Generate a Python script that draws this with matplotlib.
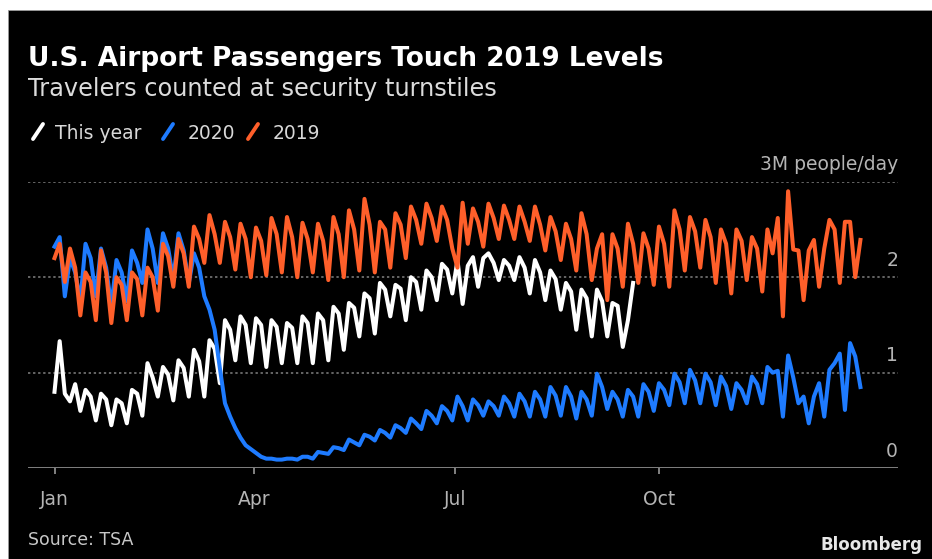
import numpy as np
import matplotlib
matplotlib.use("Agg")
import matplotlib.pyplot as plt
import matplotlib.transforms as mtransforms
from matplotlib.lines import Line2D
from matplotlib.patches import Rectangle

# ---------------------------------------------------------------------------
# Data: TSA checkpoint travel numbers (millions of people per day),
# three readings per week (every 7/3 days) starting on Jan 1.
# ---------------------------------------------------------------------------
STEP_DAYS = 7 / 3

pax_2019 = [
    2.20, 2.35, 1.95, 2.30, 2.10, 1.60, 2.05, 1.95, 1.55, 2.28, 2.05, 1.52,
    2.00, 1.92, 1.55, 2.05, 1.98, 1.60, 2.10, 2.00, 1.65, 2.35, 2.22, 1.90,
    2.40, 2.25, 1.90, 2.53, 2.40, 2.15, 2.65, 2.45, 2.15, 2.58, 2.42, 2.08,
    2.56, 2.40, 2.00, 2.52, 2.38, 2.02, 2.62, 2.45, 2.05, 2.63, 2.42, 2.00,
    2.57, 2.40, 2.05, 2.56, 2.38, 1.97, 2.63, 2.45, 2.00, 2.70, 2.50, 2.07,
    2.82, 2.55, 2.05, 2.58, 2.50, 2.10, 2.67, 2.55, 2.20, 2.74, 2.60, 2.35,
    2.77, 2.62, 2.38, 2.74, 2.60, 2.30, 2.10, 2.78, 2.35, 2.72, 2.58, 2.32,
    2.77, 2.62, 2.40, 2.75, 2.60, 2.40, 2.74, 2.58, 2.38, 2.74, 2.55, 2.28,
    2.63, 2.48, 2.18, 2.56, 2.40, 2.07, 2.67, 2.45, 1.97, 2.30, 2.45, 1.76,
    2.45, 2.30, 1.90, 2.56, 2.35, 1.94, 2.46, 2.30, 1.92, 2.53, 2.35, 1.90,
    2.70, 2.50, 2.07, 2.63, 2.48, 2.10, 2.60, 2.42, 1.94, 2.50, 2.35, 1.83,
    2.50, 2.38, 1.97, 2.42, 2.30, 1.85, 2.50, 2.25, 2.62, 1.59, 2.90, 2.29,
    2.28, 1.76, 2.28, 2.39, 1.90, 2.30, 2.60, 2.50, 1.94, 2.58, 2.58, 2.00,
    2.39,
]

pax_2020 = [
    2.32, 2.42, 1.80, 2.20, 2.05, 1.75, 2.35, 2.20, 1.80, 2.30, 2.10, 1.69,
    2.18, 2.05, 1.75, 2.28, 2.15, 1.94, 2.50, 2.30, 1.94, 2.46, 2.30, 1.98,
    2.46, 2.28, 1.94, 2.25, 2.10, 1.80, 1.66, 1.45, 1.05, 0.68, 0.54, 0.42,
    0.32, 0.24, 0.20, 0.16, 0.12, 0.10, 0.10, 0.09, 0.09, 0.10, 0.10, 0.09,
    0.12, 0.12, 0.10, 0.17, 0.16, 0.15, 0.22, 0.21, 0.19, 0.30, 0.27, 0.24,
    0.35, 0.33, 0.29, 0.40, 0.37, 0.32, 0.45, 0.42, 0.37, 0.52, 0.47, 0.41,
    0.60, 0.55, 0.47, 0.65, 0.60, 0.50, 0.75, 0.65, 0.50, 0.72, 0.66, 0.55,
    0.70, 0.65, 0.55, 0.75, 0.68, 0.54, 0.78, 0.70, 0.54, 0.80, 0.72, 0.54,
    0.85, 0.76, 0.55, 0.85, 0.75, 0.52, 0.80, 0.72, 0.55, 0.99, 0.85, 0.62,
    0.80, 0.72, 0.54, 0.82, 0.75, 0.54, 0.88, 0.80, 0.60, 0.89, 0.82, 0.66,
    0.99, 0.90, 0.68, 1.03, 0.92, 0.68, 0.99, 0.90, 0.66, 0.96, 0.86, 0.62,
    0.89, 0.82, 0.68, 0.96, 0.88, 0.68, 1.06, 1.00, 1.02, 0.54, 1.18, 0.95,
    0.68, 0.75, 0.47, 0.75, 0.89, 0.54, 1.03, 1.10, 1.20, 0.61, 1.31, 1.17,
    0.85,
]

pax_this_year = [
    0.80, 1.33, 0.78, 0.70, 0.88, 0.60, 0.82, 0.75, 0.50, 0.78, 0.72, 0.45,
    0.72, 0.68, 0.47, 0.82, 0.78, 0.55, 1.10, 0.95, 0.75, 1.06, 0.98, 0.71,
    1.13, 1.05, 0.75, 1.24, 1.12, 0.75, 1.34, 1.25, 0.89, 1.55, 1.45, 1.13,
    1.59, 1.50, 1.10, 1.57, 1.50, 1.06, 1.55, 1.48, 1.10, 1.52, 1.47, 1.10,
    1.59, 1.52, 1.10, 1.62, 1.55, 1.13, 1.69, 1.62, 1.24, 1.73, 1.68, 1.38,
    1.83, 1.78, 1.41, 1.94, 1.87, 1.59, 1.92, 1.88, 1.55, 2.00, 1.95, 1.66,
    2.07, 2.00, 1.76, 2.14, 2.08, 1.83, 2.18, 1.72, 2.12, 2.21, 1.90, 2.20,
    2.25, 2.15, 1.97, 2.18, 2.12, 1.97, 2.21, 2.10, 1.83, 2.18, 2.05, 1.76,
    2.07, 1.98, 1.66, 1.94, 1.85, 1.45, 1.87, 1.78, 1.38, 1.87, 1.75, 1.38,
    1.73, 1.70, 1.27, 1.55, 1.94,
]

series_labels = ["This year", "2020", "2019"]
month_days = [0, 90, 181, 273]
month_labels = ["Jan", "Apr", "Jul", "Oct"]
value_ticks = [0, 1, 2, 3]
value_labels = ["0", "1", "2", "3M people/day"]

# ---------------------------------------------------------------------------
# Styling
# ---------------------------------------------------------------------------
W, H = 932, 559
ORANGE = "#ff5f2a"
BLUE = "#1e7bff"
WHITE = "#ffffff"
GRID = "#6e6e6e"
AXIS = "#8c8c8c"
LABEL = "#b4b4b4"
FONT = dict(family="DejaVu Sans")

fig = plt.figure(figsize=(W / 100, H / 100), dpi=100, facecolor="white")

# black card with a thin white margin on the top and left edge
fig.patches.append(Rectangle((8 / W, 0), 1 - 8 / W, (H - 10) / H,
                             transform=fig.transFigure, facecolor="black",
                             edgecolor="#9a9a9a", linewidth=0.6, zorder=-10))


def ftext(x, y, s, size, color, weight="normal", ha="left"):
    """Figure text placed by pixel position (y measured from the top)."""
    fig.text(x / W, 1 - y / H, s, fontsize=size, color=color,
             fontweight=weight, ha=ha, va="baseline", **FONT)


ftext(28, 66, "U.S. Airport Passengers Touch 2019 Levels", 19, WHITE, "bold")
ftext(28, 96, "Travelers counted at security turnstiles", 17.3, "#dcdcdc")

# legend: slanted strokes followed by series names
legend_items = [(33, 55, WHITE), (163, 188, BLUE), (248, 273, ORANGE)]
for (sx, tx, col), name in zip(legend_items, series_labels):
    fig.lines.append(Line2D([sx / W, (sx + 10) / W],
                            [1 - 139 / H, 1 - 124 / H],
                            transform=fig.transFigure, color=col,
                            linewidth=2.8, solid_capstyle="round"))
    ftext(tx, 139, name, 13.5, "#d8d8d8")

# ---------------------------------------------------------------------------
# Plot area
# ---------------------------------------------------------------------------
ax = fig.add_axes([28 / W, (H - 468.2) / H, 870 / W, 286.5 / H])
ax.set_facecolor("none")
ax.set_xlim(-11.97, 380.97)
ax.set_ylim(0, 3)
for sp in ax.spines.values():
    sp.set_visible(False)
ax.set_yticks([])
ax.set_xticks(month_days)
ax.set_xticklabels([])
ax.tick_params(axis="x", direction="out", length=4.5, width=1.3,
               color=AXIS)

for v in value_ticks[1:]:
    ax.axhline(v, color=GRID, linewidth=1.3, linestyle=(0, (1.3, 1.5)),
               zorder=1)
ax.axhline(0, color=AXIS, linewidth=2.0, zorder=1)

label_tf = mtransforms.offset_copy(ax.get_yaxis_transform(), fig=fig,
                                   x=0, y=8.4, units="points")
for v, s in zip(value_ticks, value_labels):
    ax.text(1.0, v, s, transform=label_tf, ha="right", va="baseline",
            fontsize=13.5, color=LABEL, **FONT)

month_tf = mtransforms.offset_copy(ax.get_xaxis_transform(), fig=fig,
                                   x=0, y=-26.6, units="points")
for d, s in zip(month_days, month_labels):
    ax.text(d, 0, s, transform=month_tf, ha="center", va="baseline",
            fontsize=13.5, color=LABEL, **FONT)

line_kw = dict(linewidth=2.9, solid_joinstyle="round", clip_on=False)
x_this = np.arange(len(pax_this_year)) * STEP_DAYS
x_2020 = np.arange(len(pax_2020)) * STEP_DAYS
x_2019 = np.arange(len(pax_2019)) * STEP_DAYS
ax.plot(x_this, pax_this_year, color=WHITE, zorder=3, **line_kw)
ax.plot(x_2020, pax_2020, color=BLUE, zorder=4, **line_kw)
ax.plot(x_2019, pax_2019, color=ORANGE, zorder=5, **line_kw)

# footer
ftext(28, 545, "Source: TSA", 12.5, "#c8c8c8")
ftext(922, 550, "Bloomberg", 12, "#e8e8e8", weight="bold", ha="right")

fig.savefig("out.png", dpi=100, facecolor=fig.get_facecolor())
